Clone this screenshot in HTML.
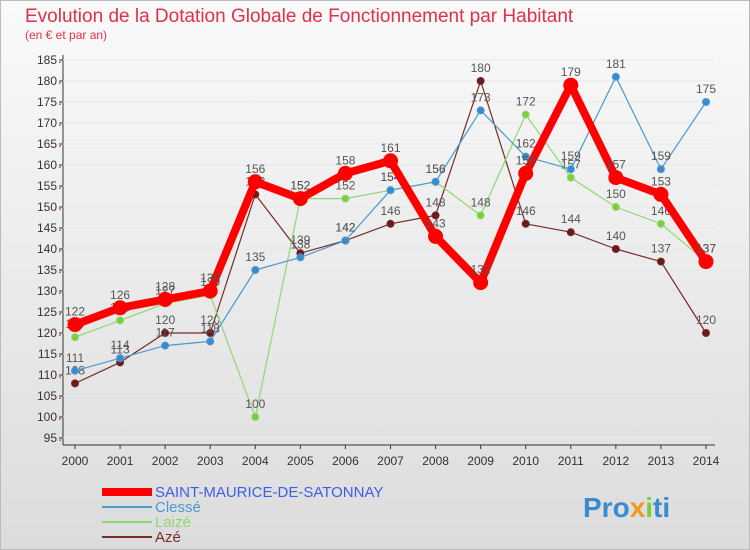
<!DOCTYPE html>
<html><head><meta charset="utf-8"><style>
body{margin:0;width:750px;height:550px;overflow:hidden;font-family:"Liberation Sans",sans-serif}
#bg{position:absolute;left:0;top:0;width:748px;height:548px;border:1px solid #bbb;background:linear-gradient(#fafafa,#dcdcdc)}
</style></head><body>
<div id="bg"></div>
<svg id="c" width="750" height="550" style="position:absolute;left:0;top:0">
<text x="25" y="22" font-size="19" fill="#e0304a">Evolution de la Dotation Globale de Fonctionnement par Habitant</text>
<text x="25" y="39" font-size="12" fill="#e0304a">(en € et par an)</text>
</svg>
<script>
const years=[2000,2001,2002,2003,2004,2005,2006,2007,2008,2009,2010,2011,2012,2013,2014];
const stMaurice=[122,126,128,130,156,152,158,161,143,132,158,179,157,153,137];
const clesse=[111,114,117,118,135,138,142,154,156,173,162,159,181,159,175];
const laize=[119,123,127,129,100,152,152,154,156,148,172,157,150,146,137];
const aze=[108,113,120,120,153,139,142,146,148,180,146,144,140,137,120];
const yTicks=[95,100,105,110,115,120,125,130,135,140,145,150,155,160,165,170,175,180,185];
const svg=document.getElementById('c');const NS='http://www.w3.org/2000/svg';
const X=i=>75+i*(706-75)/14;const Y=v=>438-(v-95)*(438-60)/90;
function mk(t,a,p){const e=document.createElementNS(NS,t);for(const k in a)e.setAttribute(k,a[k]);(p||svg).appendChild(e);return e;}
let l=mk('line',{x1:63,y1:55,x2:63,y2:445,stroke:'#333'});


l=mk('line',{x1:63,y1:445,x2:715,y2:445,stroke:'#333'});


yTicks.forEach(v=>{const y=Y(v);
 mk('line',{x1:63,y1:y,x2:715,y2:y,stroke:'#e8e8e8'});
 mk('line',{x1:59,y1:y,x2:63,y2:y,stroke:'#333'});
 mk('line',{x1:59,y1:y+2.1,x2:61,y2:y+2.1,stroke:'#e00'});
 const t=mk('text',{x:57,y:y+4,'font-size':12,'text-anchor':'end',fill:'#333'});t.textContent=v;
 
 });
years.forEach((yr,i)=>{mk('line',{x1:X(i),y1:445,x2:X(i),y2:449,stroke:'#333'});
 const t=mk('text',{x:X(i),y:465,'font-size':12,'text-anchor':'middle',fill:'#333'});t.textContent=yr;
 
 });
function series(d,col,w,r,name,dot){
 const g=mk('g',{});
 
 
 mk('polyline',{points:d.map((v,i)=>X(i)+','+Y(v)).join(' '),fill:'none',stroke:col,'stroke-width':w,'stroke-linejoin':'round'},g);
 d.forEach((v,i)=>{mk('circle',{cx:X(i),cy:Y(v),r:r,fill:dot,stroke:col,'stroke-width':1},g);
  const t=mk('text',{x:X(i),y:Y(v)-9,'font-size':12,'text-anchor':'middle',fill:'#555'},g);t.textContent=v;});
}
series(aze,'#7a2a2a',1.2,3.5,'series-aze','#6a1a1a');
series(laize,'#8fd870',1.2,3.5,'series-laize','#7ccf3a');
series(clesse,'#4a9ad0',1.2,3.5,'series-clesse','#3a8ad0');
series(stMaurice,'#f00',8,7,'series-saint-maurice','#f00');
const leg=[['SAINT-MAURICE-DE-SATONNAY','#f00',8,'#3b5ee8'],['Clessé','#4a9ad0',2,'#4a9ad0'],['Laizé','#8fd870',2,'#8fd870'],['Azé','#7a2a2a',2,'#7a2a2a']];
leg.forEach((e,i)=>{const y=492+i*15;const g=mk('g',{});
 
 
 mk('line',{x1:102,y1:y,x2:152,y2:y,stroke:e[1],'stroke-width':e[2]},g);
 const t=mk('text',{x:155,y:y+5,'font-size':15,fill:e[3]},g);t.textContent=e[0];});
const p=mk('text',{x:583,y:517,'font-size':28,'font-weight':'bold',fill:'#3a8ad0'});


p.innerHTML='Pro<tspan fill="#f39a1e">x</tspan><tspan fill="#7ccf3a">i</tspan>ti';
</script>
</body></html>
